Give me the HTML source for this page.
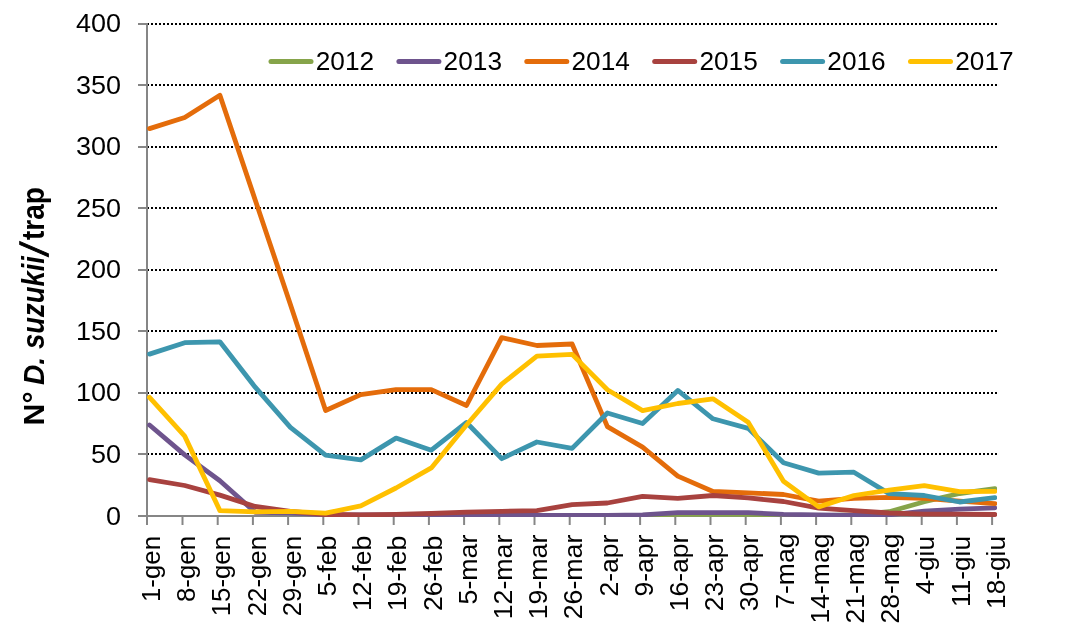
<!DOCTYPE html>
<html lang="it">
<head>
<meta charset="utf-8">
<title>N° D. suzukii/trap</title>
<style>
html,body{margin:0;padding:0;background:#fff;}
body{width:1072px;height:634px;overflow:hidden;}
svg{display:block;}
text{font-family:"Liberation Sans", "DejaVu Sans", sans-serif;fill:#000;}
.lbl{font-size:25px;}
.ttl{font-size:28.5px;font-weight:bold;}
</style>
</head>
<body>
<svg width="1072" height="634" viewBox="0 0 1072 634">
<defs><clipPath id="plot"><rect x="147" y="20" width="850" height="497"/></clipPath></defs>
<rect x="0" y="0" width="1072" height="634" fill="#ffffff"/>
<g stroke="#000" stroke-width="2" stroke-dasharray="2 2" fill="none" shape-rendering="crispEdges">
<line x1="147" y1="454" x2="997" y2="454"/>
<line x1="147" y1="393" x2="997" y2="393"/>
<line x1="147" y1="331" x2="997" y2="331"/>
<line x1="147" y1="270" x2="997" y2="270"/>
<line x1="147" y1="208" x2="997" y2="208"/>
<line x1="147" y1="147" x2="997" y2="147"/>
<line x1="147" y1="85" x2="997" y2="85"/>
<line x1="147" y1="24" x2="997" y2="24"/>
</g>
<g stroke="#868686" stroke-width="2" fill="none" shape-rendering="crispEdges">
<line x1="147" y1="23" x2="147" y2="525"/>
<line x1="138" y1="516" x2="993" y2="516"/>
<line x1="138" y1="454" x2="147" y2="454"/>
<line x1="138" y1="393" x2="147" y2="393"/>
<line x1="138" y1="331" x2="147" y2="331"/>
<line x1="138" y1="270" x2="147" y2="270"/>
<line x1="138" y1="208" x2="147" y2="208"/>
<line x1="138" y1="147" x2="147" y2="147"/>
<line x1="138" y1="85" x2="147" y2="85"/>
<line x1="138" y1="24" x2="147" y2="24"/>
</g>
<g stroke="#868686" stroke-width="2" fill="none">
<line x1="182.5" y1="516" x2="182.5" y2="525"/>
<line x1="217.7" y1="516" x2="217.7" y2="525"/>
<line x1="252.9" y1="516" x2="252.9" y2="525"/>
<line x1="288.1" y1="516" x2="288.1" y2="525"/>
<line x1="323.3" y1="516" x2="323.3" y2="525"/>
<line x1="358.5" y1="516" x2="358.5" y2="525"/>
<line x1="393.7" y1="516" x2="393.7" y2="525"/>
<line x1="428.9" y1="516" x2="428.9" y2="525"/>
<line x1="464.1" y1="516" x2="464.1" y2="525"/>
<line x1="499.3" y1="516" x2="499.3" y2="525"/>
<line x1="534.5" y1="516" x2="534.5" y2="525"/>
<line x1="569.7" y1="516" x2="569.7" y2="525"/>
<line x1="604.9" y1="516" x2="604.9" y2="525"/>
<line x1="640.1" y1="516" x2="640.1" y2="525"/>
<line x1="675.3" y1="516" x2="675.3" y2="525"/>
<line x1="710.5" y1="516" x2="710.5" y2="525"/>
<line x1="745.7" y1="516" x2="745.7" y2="525"/>
<line x1="780.9" y1="516" x2="780.9" y2="525"/>
<line x1="816.1" y1="516" x2="816.1" y2="525"/>
<line x1="851.3" y1="516" x2="851.3" y2="525"/>
<line x1="886.5" y1="516" x2="886.5" y2="525"/>
<line x1="921.7" y1="516" x2="921.7" y2="525"/>
<line x1="956.9" y1="516" x2="956.9" y2="525"/>
<line x1="992.1" y1="516" x2="992.1" y2="525"/>
</g>
<g clip-path="url(#plot)" fill="none" stroke-width="4.8" stroke-linecap="round" stroke-linejoin="round">
<polyline stroke="#86A44A" points="607.4,515.6 642.6,515.4 677.8,514.3 713.0,514.3 748.2,514.3 783.5,515.4 818.7,515.6 853.9,514.8 889.1,511.7 924.3,501.7 959.6,493.5 994.8,488.6"/>
<polyline stroke="#6E548D" points="149.5,425.0 184.7,454.9 219.9,480.8 255.2,512.3 290.4,512.9 325.6,514.8 360.8,514.8 396.0,514.8 431.3,515.3 466.5,515.4 501.7,515.4 536.9,515.4 572.1,515.5 607.4,515.4 642.6,514.8 677.8,512.7 713.0,512.7 748.2,512.7 783.5,514.4 818.7,514.8 853.9,515.4 889.1,514.8 924.3,511.2 959.6,509.1 994.8,507.8"/>
<polyline stroke="#E46C0A" points="149.5,128.6 184.7,117.5 219.9,95.3 255.2,199.9 290.4,304.4 325.6,410.5 360.8,394.6 396.0,389.6 431.3,389.6 466.5,405.5 501.7,337.6 536.9,345.5 572.1,344.0 607.4,426.6 642.6,447.1 677.8,476.1 713.0,491.5 748.2,492.9 783.5,494.5 818.7,501.2 853.9,498.3 889.1,497.3 924.3,498.4 959.6,501.2 994.8,503.6"/>
<polyline stroke="#A8423F" points="149.5,479.6 184.7,485.5 219.9,495.1 255.2,506.5 290.4,511.4 325.6,514.5 360.8,514.8 396.0,514.4 431.3,513.5 466.5,512.2 501.7,511.3 536.9,510.6 572.1,504.7 607.4,503.0 642.6,496.3 677.8,498.4 713.0,495.5 748.2,497.9 783.5,501.5 818.7,508.1 853.9,510.7 889.1,513.0 924.3,514.2 959.6,514.2 994.8,514.5"/>
<polyline stroke="#3D96AE" points="149.5,354.1 184.7,342.7 219.9,341.8 255.2,387.2 290.4,427.3 325.6,455.1 360.8,459.9 396.0,438.1 431.3,450.2 466.5,422.5 501.7,458.7 536.9,442.0 572.1,448.4 607.4,413.0 642.6,423.5 677.8,390.4 713.0,418.8 748.2,428.4 783.5,462.7 818.7,473.1 853.9,472.2 889.1,493.6 924.3,495.5 959.6,502.0 994.8,497.7"/>
<polyline stroke="#FFC000" points="149.5,397.3 184.7,436.1 219.9,510.6 255.2,511.9 290.4,511.4 325.6,513.2 360.8,505.8 396.0,488.0 431.3,467.9 466.5,425.0 501.7,384.1 536.9,356.1 572.1,354.4 607.4,389.8 642.6,410.6 677.8,403.5 713.0,398.8 748.2,422.2 783.5,481.2 818.7,506.9 853.9,495.5 889.1,490.2 924.3,485.7 959.6,491.6 994.8,491.4"/>
</g>
<text class="lbl" x="121.0" y="525.0" text-anchor="end" textLength="15.0" lengthAdjust="spacingAndGlyphs">0</text>
<text class="lbl" x="121.0" y="462.9" text-anchor="end" textLength="30.0" lengthAdjust="spacingAndGlyphs">50</text>
<text class="lbl" x="121.0" y="401.4" text-anchor="end" textLength="45.0" lengthAdjust="spacingAndGlyphs">100</text>
<text class="lbl" x="121.0" y="339.9" text-anchor="end" textLength="45.0" lengthAdjust="spacingAndGlyphs">150</text>
<text class="lbl" x="121.0" y="278.4" text-anchor="end" textLength="45.0" lengthAdjust="spacingAndGlyphs">200</text>
<text class="lbl" x="121.0" y="216.9" text-anchor="end" textLength="45.0" lengthAdjust="spacingAndGlyphs">250</text>
<text class="lbl" x="121.0" y="155.4" text-anchor="end" textLength="45.0" lengthAdjust="spacingAndGlyphs">300</text>
<text class="lbl" x="121.0" y="93.9" text-anchor="end" textLength="45.0" lengthAdjust="spacingAndGlyphs">350</text>
<text class="lbl" x="121.0" y="32.4" text-anchor="end" textLength="45.0" lengthAdjust="spacingAndGlyphs">400</text>
<text class="lbl" transform="translate(159.9,536.0) rotate(-90) scale(1.032,1)" text-anchor="end" x="0" y="0">1-gen</text>
<text class="lbl" transform="translate(195.1,536.0) rotate(-90) scale(1.032,1)" text-anchor="end" x="0" y="0">8-gen</text>
<text class="lbl" transform="translate(230.3,536.0) rotate(-90) scale(1.032,1)" text-anchor="end" x="0" y="0">15-gen</text>
<text class="lbl" transform="translate(265.5,536.0) rotate(-90) scale(1.032,1)" text-anchor="end" x="0" y="0">22-gen</text>
<text class="lbl" transform="translate(300.7,536.0) rotate(-90) scale(1.032,1)" text-anchor="end" x="0" y="0">29-gen</text>
<text class="lbl" transform="translate(335.9,535.8) rotate(-90) scale(1.063,1)" text-anchor="end" x="0" y="0">5-feb</text>
<text class="lbl" transform="translate(371.1,535.8) rotate(-90) scale(1.063,1)" text-anchor="end" x="0" y="0">12-feb</text>
<text class="lbl" transform="translate(406.3,535.8) rotate(-90) scale(1.063,1)" text-anchor="end" x="0" y="0">19-feb</text>
<text class="lbl" transform="translate(441.5,535.8) rotate(-90) scale(1.063,1)" text-anchor="end" x="0" y="0">26-feb</text>
<text class="lbl" transform="translate(476.7,534.6) rotate(-90) scale(1.070,1)" text-anchor="end" x="0" y="0">5-mar</text>
<text class="lbl" transform="translate(511.9,534.6) rotate(-90) scale(1.070,1)" text-anchor="end" x="0" y="0">12-mar</text>
<text class="lbl" transform="translate(547.1,534.6) rotate(-90) scale(1.070,1)" text-anchor="end" x="0" y="0">19-mar</text>
<text class="lbl" transform="translate(582.3,534.6) rotate(-90) scale(1.070,1)" text-anchor="end" x="0" y="0">26-mar</text>
<text class="lbl" transform="translate(617.5,534.6) rotate(-90) scale(1.060,1)" text-anchor="end" x="0" y="0">2-apr</text>
<text class="lbl" transform="translate(652.7,534.6) rotate(-90) scale(1.060,1)" text-anchor="end" x="0" y="0">9-apr</text>
<text class="lbl" transform="translate(687.9,534.6) rotate(-90) scale(1.060,1)" text-anchor="end" x="0" y="0">16-apr</text>
<text class="lbl" transform="translate(723.1,534.6) rotate(-90) scale(1.060,1)" text-anchor="end" x="0" y="0">23-apr</text>
<text class="lbl" transform="translate(758.3,534.6) rotate(-90) scale(1.060,1)" text-anchor="end" x="0" y="0">30-apr</text>
<text class="lbl" transform="translate(793.5,533.6) rotate(-90) scale(1.060,1)" text-anchor="end" x="0" y="0">7-mag</text>
<text class="lbl" transform="translate(828.7,533.6) rotate(-90) scale(1.060,1)" text-anchor="end" x="0" y="0">14-mag</text>
<text class="lbl" transform="translate(863.9,533.6) rotate(-90) scale(1.060,1)" text-anchor="end" x="0" y="0">21-mag</text>
<text class="lbl" transform="translate(899.1,533.6) rotate(-90) scale(1.060,1)" text-anchor="end" x="0" y="0">28-mag</text>
<text class="lbl" transform="translate(934.3,536.0) rotate(-90) scale(1.050,1)" text-anchor="end" x="0" y="0">4-giu</text>
<text class="lbl" transform="translate(969.5,536.0) rotate(-90) scale(1.050,1)" text-anchor="end" x="0" y="0">11-giu</text>
<text class="lbl" transform="translate(1004.7,536.0) rotate(-90) scale(1.050,1)" text-anchor="end" x="0" y="0">18-giu</text>
<line x1="271.0" y1="61.5" x2="311.0" y2="61.5" stroke="#86A44A" stroke-width="5" stroke-linecap="round"/>
<text class="lbl" x="315.7" y="70" textLength="58.4" lengthAdjust="spacingAndGlyphs">2012</text>
<line x1="398.9" y1="61.5" x2="438.9" y2="61.5" stroke="#6E548D" stroke-width="5" stroke-linecap="round"/>
<text class="lbl" x="443.6" y="70" textLength="58.4" lengthAdjust="spacingAndGlyphs">2013</text>
<line x1="526.8" y1="61.5" x2="566.8" y2="61.5" stroke="#E46C0A" stroke-width="5" stroke-linecap="round"/>
<text class="lbl" x="571.5" y="70" textLength="58.4" lengthAdjust="spacingAndGlyphs">2014</text>
<line x1="654.7" y1="61.5" x2="694.7" y2="61.5" stroke="#A8423F" stroke-width="5" stroke-linecap="round"/>
<text class="lbl" x="699.4" y="70" textLength="58.4" lengthAdjust="spacingAndGlyphs">2015</text>
<line x1="782.6" y1="61.5" x2="822.6" y2="61.5" stroke="#3D96AE" stroke-width="5" stroke-linecap="round"/>
<text class="lbl" x="827.3" y="70" textLength="58.4" lengthAdjust="spacingAndGlyphs">2016</text>
<line x1="910.5" y1="61.5" x2="950.5" y2="61.5" stroke="#FFC000" stroke-width="5" stroke-linecap="round"/>
<text class="lbl" x="955.2" y="70" textLength="58.4" lengthAdjust="spacingAndGlyphs">2017</text>
<g transform="translate(43.8,424) rotate(-90)" font-weight="bold">
<text x="-1.5" y="0" font-size="29.7" textLength="34" lengthAdjust="spacingAndGlyphs">N°</text>
<text x="39" y="0" font-size="29.7" font-style="italic" textLength="28" lengthAdjust="spacingAndGlyphs">D.</text>
<text x="75" y="0" font-size="30.5" font-style="italic" textLength="93" lengthAdjust="spacingAndGlyphs">suzukii</text>
<text transform="translate(167.3,4) skewX(-9)" x="0" y="0" font-size="39" font-weight="normal" stroke="#000" stroke-width="1">/</text>
<text x="184" y="0" font-size="30.5" textLength="53" lengthAdjust="spacingAndGlyphs">trap</text>
</g>
</svg>
</body>
</html>
